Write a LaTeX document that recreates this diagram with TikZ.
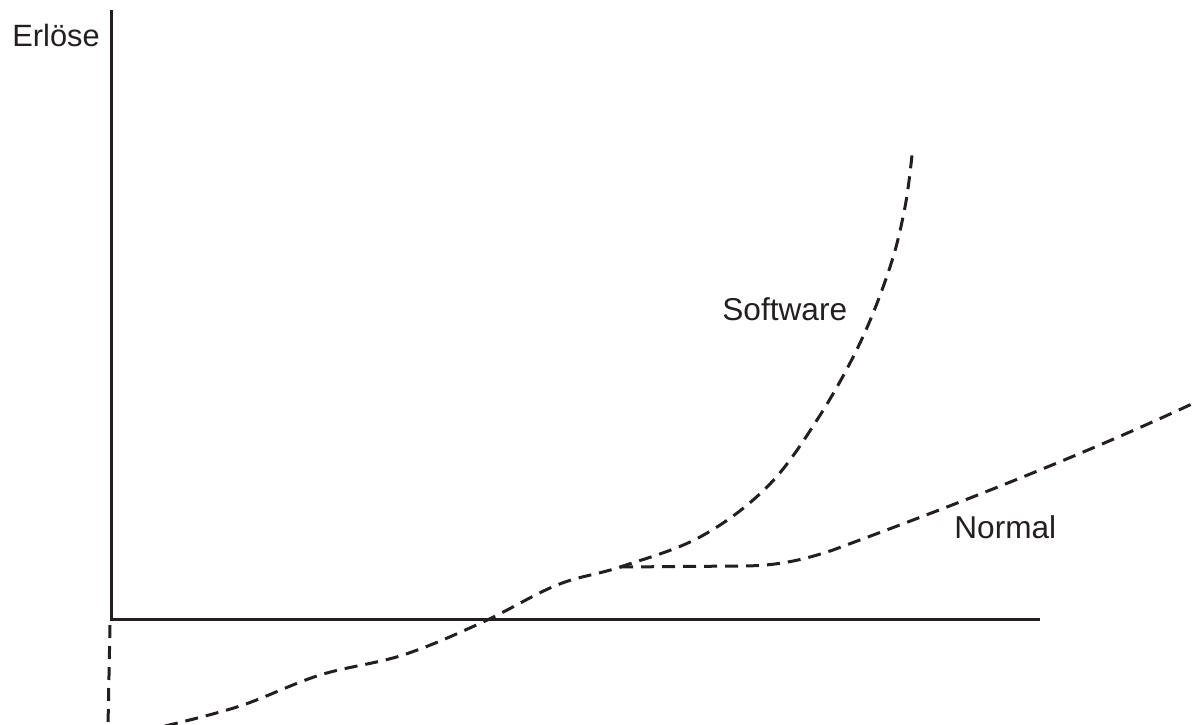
\documentclass[tikz,border=0pt]{standalone}
\usepackage{fontspec}
\setmainfont{Liberation Sans}
\definecolor{ink}{HTML}{231F20}
\begin{document}
\begin{tikzpicture}[x=0.5pt,y=-0.5pt,
  axis/.style={draw=ink,line width=1.5pt},
  curve/.style={draw=ink,line width=1.5pt,dash pattern=on 6.5pt off 4pt},
  lbl/.style={anchor=base west,inner sep=0pt,text=ink,font=\fontsize{15.8}{18}\selectfont}]
\useasboundingbox (0,0) rectangle (1193,724);
\clip (0,0) rectangle (1193,724);
\coordinate (top) at (111,10);
\coordinate (origin) at (111,619);
\coordinate (xend) at (1040,619);
\draw[axis] (top) -- (origin) -- (xend);
\coordinate (v1) at (110,625);
\coordinate (v2) at (108,726);
\draw[curve] (v1) -- (v2);
\draw[curve] plot[smooth,tension=0.6] coordinates {(165,726) (240,706) (320,675) (403,655) (483,622) (557,585) (620,567) (700,537) (767,487) (817,420) (860,343) (890,267) (905,207) (912,155)};
\coordinate (split) at (620,567);
\draw[curve] (split) -- (740,566) .. controls (775,566) and (800,561) .. (833,550)
  .. controls (900,525) and (1050,470) .. (1194,403);
\node[lbl,font=\fontsize{15.4}{18}\selectfont] (erl) at (12,46) {Erlöse};
\node[lbl] (sw) at (722,320) {Software};
\node[lbl] (nm) at (954,538) {Normal};
\end{tikzpicture}
\end{document}
